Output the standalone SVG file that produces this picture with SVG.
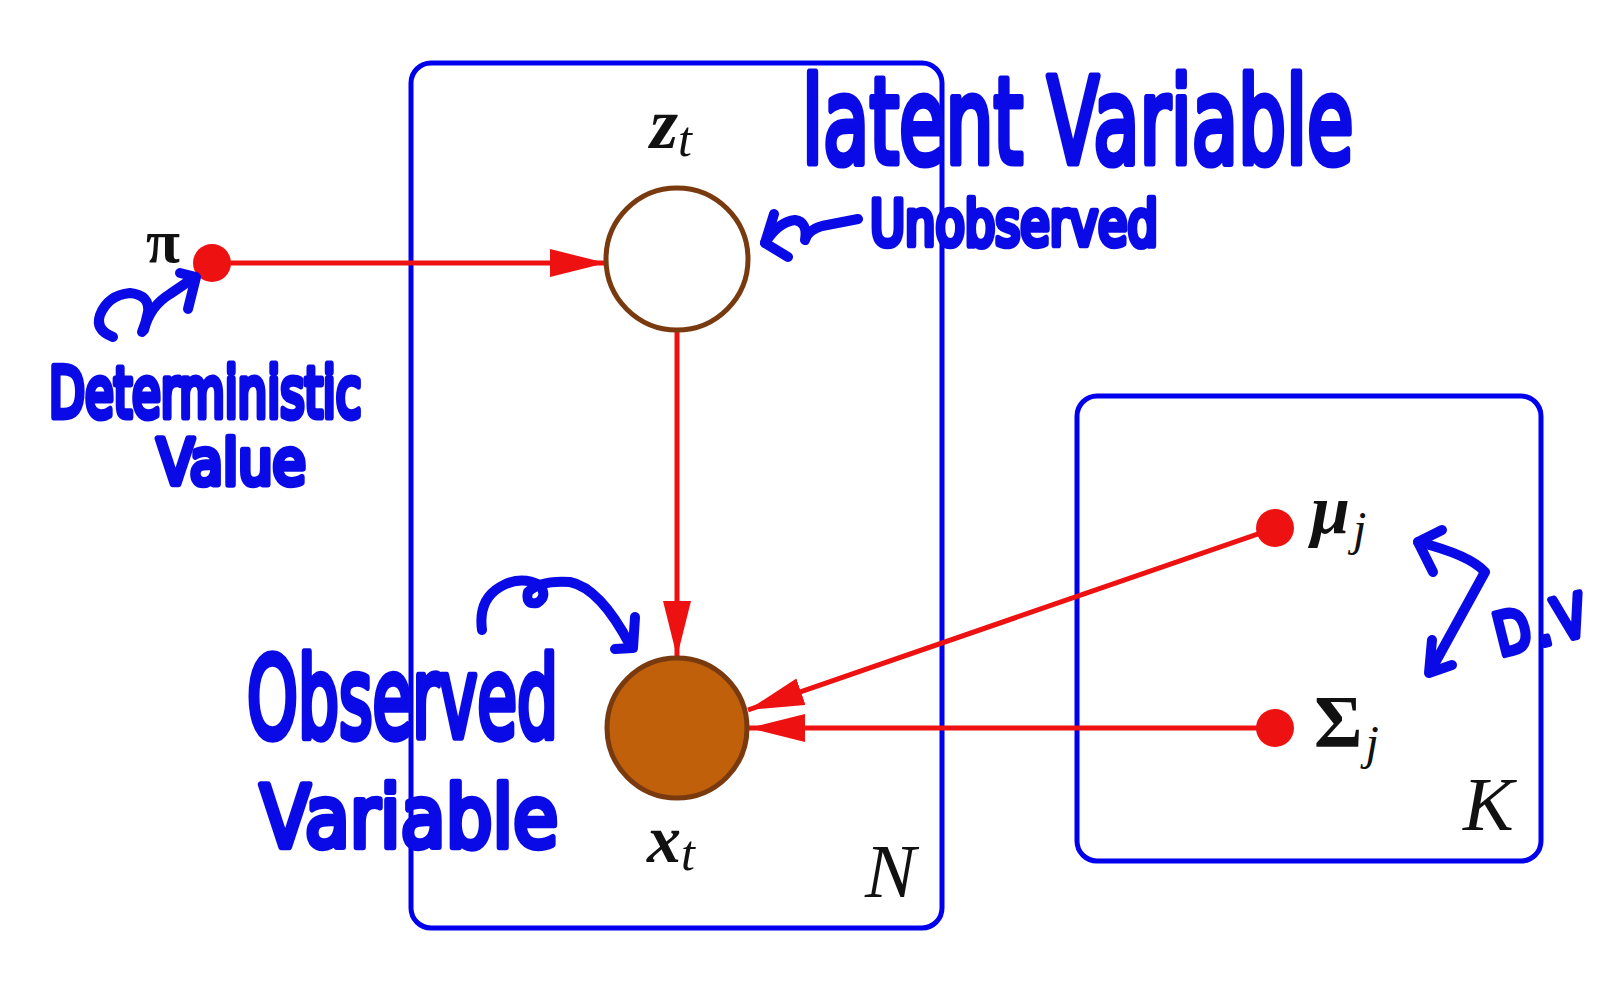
<svg xmlns="http://www.w3.org/2000/svg" width="1612" height="1000" viewBox="0 0 1612 1000">
<defs>
<style>
.plate{fill:none;stroke:#0000ee;stroke-width:5}
.edge{stroke:#ee1111;stroke-width:5;fill:none}
.dot{fill:#ee1111}
.math{font-family:"Liberation Serif","DejaVu Serif",serif;fill:#111}
.hand{font-family:"DejaVu Sans","Liberation Sans",sans-serif;font-weight:normal;fill:#0a0ae6;stroke:#0a0ae6;stroke-width:6;stroke-linejoin:round;stroke-linecap:round;vector-effect:non-scaling-stroke}
.pen{fill:none;stroke:#0a0ae6;stroke-width:10;stroke-linecap:round;stroke-linejoin:round}
</style>
<marker id="arr" markerUnits="userSpaceOnUse" markerWidth="58" markerHeight="30" refX="56" refY="14" orient="auto" viewBox="0 0 58 30">
<path d="M0,0 L56,14 L0,28 z" fill="#ee1111"/>
</marker>
</defs>
<rect width="1612" height="1000" fill="#fff"/>

<g id="plate-N">
<rect class="plate" x="411" y="63" width="531" height="865" rx="20"/>
<text class="math" x="865" y="897" font-size="76" font-style="italic">N</text>
</g>
<g id="plate-K">
<rect class="plate" x="1077" y="396" width="464" height="465" rx="20"/>
<text class="math" x="1463" y="830" font-size="76" font-style="italic">K</text>
</g>

<g id="connectors">
<line class="edge" x1="212" y1="263" x2="606" y2="263" marker-end="url(#arr)"/>
<line class="edge" x1="677" y1="331" x2="677" y2="657" marker-end="url(#arr)"/>
<line class="edge" x1="1275" y1="528" x2="748" y2="710" marker-end="url(#arr)"/>
<line class="edge" x1="1275" y1="728" x2="749" y2="728" marker-end="url(#arr)"/>
</g>

<g id="node-pi">
<circle class="dot" cx="212" cy="263" r="19"/>
<text class="math" x="146" y="262" font-size="62" font-weight="bold">π</text>
</g>
<g id="node-z">
<circle cx="677" cy="259" r="71" fill="#fff" stroke="#7a3a10" stroke-width="5"/>
<text class="math" x="650" y="148" font-size="72" font-style="italic" font-weight="bold">z<tspan font-size="50" font-weight="normal" dy="8">t</tspan></text>
</g>
<g id="node-x">
<circle cx="677" cy="728" r="70" fill="#c0600a" stroke="#7a3a10" stroke-width="5"/>
<text class="math" x="647" y="862" font-size="68" font-style="italic" font-weight="bold">x<tspan font-size="50" font-weight="normal" dy="8">t</tspan></text>
</g>
<g id="node-mu">
<circle class="dot" cx="1275" cy="528" r="19"/>
<text class="math" x="1311" y="533" font-size="70" font-style="italic" font-weight="bold">μ<tspan font-size="48" font-weight="normal" dx="3" dy="12">j</tspan></text>
</g>
<g id="node-sigma">
<circle class="dot" cx="1275" cy="728" r="19"/>
<text class="math" x="1314" y="747" font-size="74" font-weight="bold">Σ<tspan font-size="48" font-style="italic" font-weight="normal" dx="3" dy="12">j</tspan></text>
</g>

<g id="annotations">
<text class="hand" transform="translate(802 163) scale(0.624 1)" x="0" y="0" font-size="120" textLength="884" lengthAdjust="spacingAndGlyphs">latent Variable</text>
<text class="hand" transform="translate(870 245) scale(0.774 1)" x="0" y="0" font-size="62" textLength="372" lengthAdjust="spacingAndGlyphs">Unobserved</text>
<path class="pen" d="M765 243 Q778 222 795 220 Q808 222 805 240 Q808 230 822 226 L858 219"/>
<path class="pen" d="M774 214 L765 243 L788 257"/>
<text class="hand" transform="translate(49 417) scale(0.647 1)" x="0" y="0" font-size="70" textLength="483" lengthAdjust="spacingAndGlyphs">Deterministic</text>
<text class="hand" transform="translate(157 484) scale(0.827 1)" x="0" y="0" font-size="62" textLength="180" lengthAdjust="spacingAndGlyphs">Value</text>
<path class="pen" d="M113 337 Q95 330 100 315 Q108 295 130 293 Q150 295 148 312 Q146 323 142 332"/>
<path class="pen" d="M144 330 Q150 306 170 294 L195 277"/>
<path class="pen" d="M180 273 L196 277 L188 309"/>
<text class="hand" transform="translate(247 737) scale(0.577 1)" x="0" y="0" font-size="112" textLength="539" lengthAdjust="spacingAndGlyphs">Observed</text>
<text class="hand" transform="translate(260 847) scale(0.84 1)" x="0" y="0" font-size="86" textLength="355" lengthAdjust="spacingAndGlyphs">Variable</text>
<path class="pen" d="M482 630 Q478 600 500 587 Q520 575 540 585 Q548 597 537 603 Q525 605 528 592 Q540 580 570 582 Q600 588 630 645"/>
<path class="pen" d="M635 617 L633 648 L615 649"/>
<text class="hand" transform="translate(1500 656) rotate(-14) scale(0.8 1)" x="0" y="0" font-size="58" letter-spacing="7">D.V</text>
<path class="pen" d="M1418 542 Q1470 555 1485 572 L1430 672"/>
<path class="pen" d="M1442 530 L1418 542 L1433 572"/>
<path class="pen" d="M1432 640 L1429 673 L1452 665"/>
</g>
</svg>
